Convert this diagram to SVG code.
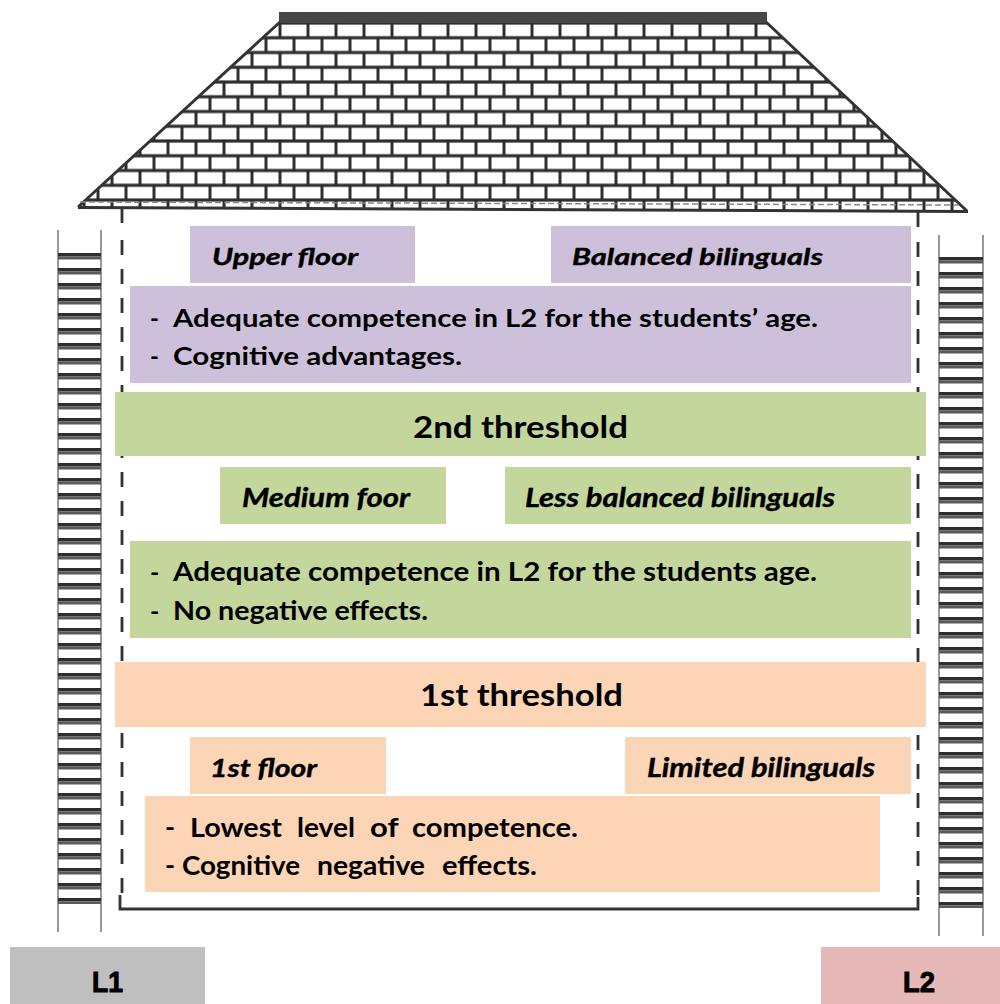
<svg xmlns="http://www.w3.org/2000/svg" width="1000" height="1004" viewBox="0 0 1000 1004">
<style>
text{font-family:Lato,"Open Sans","Liberation Sans",sans-serif;font-weight:bold;fill:#000}
.it{font-style:italic;stroke:#000;stroke-width:0.4}
.wall{stroke:#333;stroke-width:2.8;fill:none}
.rail{stroke:#777;stroke-width:1.5}
.pur{fill:#ccc0da}
.grn{fill:#c3d69b}
.pch{fill:#fbd5b5}
.lab{font-family:"Liberation Sans",Arial,sans-serif;stroke:#000;stroke-width:1}
</style>
<defs>
<pattern id="bricks" patternUnits="userSpaceOnUse" x="0" y="23" width="28" height="29.5">
<rect width="28" height="29.5" fill="#2e2e2e"/>
<rect x="1.5" y="1.6" width="25" height="11.6" fill="#fff"/>
<rect x="-12.5" y="16.35" width="25" height="11.6" fill="#fff"/>
<rect x="15.5" y="16.35" width="25" height="11.6" fill="#fff"/>
</pattern>
<pattern id="rungs" patternUnits="userSpaceOnUse" x="0" y="253" width="50" height="15">
<rect width="50" height="3.5" fill="#2e2e2e"/>
<rect y="3.5" width="50" height="3" fill="#5a5a5a"/>
</pattern>
<pattern id="rungs2" patternUnits="userSpaceOnUse" x="0" y="257" width="50" height="15">
<rect width="50" height="3.5" fill="#2e2e2e"/>
<rect y="3.5" width="50" height="3" fill="#5a5a5a"/>
</pattern>
</defs>
<rect width="1000" height="1004" fill="#fff"/>

<g id="roof">
<polygon points="280,23 766,23 967,211 78,207" fill="url(#bricks)"/>
<rect x="279" y="12" width="488" height="11" fill="#474747"/>
<line x1="280" y1="22" x2="78" y2="207" stroke="#333" stroke-width="3"/>
<line x1="766" y1="22" x2="967" y2="211" stroke="#333" stroke-width="3"/>
<line x1="80" y1="202" x2="962" y2="205" stroke="#888" stroke-width="1.5" stroke-dasharray="6 3"/>
<line x1="78" y1="207.5" x2="968" y2="211.5" stroke="#333" stroke-width="3"/>
</g>

<g id="walls">
<path class="wall" d="M122,208 V227 M122,240 V895" stroke-dasharray="15 14"/>
<path class="wall" d="M918,212 V228 M918,242 V896" stroke-dasharray="15 14"/>
<path class="wall" d="M120,895 V909 H918 V897"/>
</g>

<g id="ladder-left">
<line class="rail" x1="58" y1="230" x2="58" y2="932"/>
<line class="rail" x1="101" y1="230" x2="101" y2="932"/>
<rect x="58" y="253" width="43" height="651" fill="url(#rungs)"/>
</g>
<g id="ladder-right">
<line class="rail" x1="939" y1="235" x2="939" y2="936"/>
<line class="rail" x1="983" y1="235" x2="983" y2="936"/>
<rect x="939" y="257" width="44" height="651" fill="url(#rungs2)"/>
</g>

<g id="connectors"></g>

<g id="upper-floor">
<rect class="pur" x="190" y="226" width="225" height="57"/>
<text class="it" x="212" y="265" font-size="23" textLength="146" lengthAdjust="spacingAndGlyphs">Upper floor</text>
</g>
<g id="balanced-bilinguals">
<rect class="pur" x="551" y="226" width="360" height="57"/>
<text class="it" x="572" y="265" font-size="23" textLength="251" lengthAdjust="spacingAndGlyphs">Balanced bilinguals</text>
</g>
<g id="upper-desc">
<rect class="pur" x="130" y="286" width="781" height="97"/>
<text x="150" y="327" font-size="24">-</text>
<text x="173" y="327" font-size="25" textLength="645" lengthAdjust="spacingAndGlyphs">Adequate competence in L2 for the students’ age.</text>
<text x="150" y="365" font-size="24">-</text>
<text x="173" y="365" font-size="25" textLength="289" lengthAdjust="spacingAndGlyphs">Cognitive advantages.</text>
</g>

<g id="second-threshold">
<rect class="grn" x="115" y="392" width="811" height="64"/>
<text x="413" y="438" font-size="30" textLength="215" lengthAdjust="spacingAndGlyphs">2nd threshold</text>
</g>

<g id="medium-floor">
<rect class="grn" x="220" y="467" width="226" height="57"/>
<text class="it" x="242" y="507" font-size="26" textLength="168" lengthAdjust="spacingAndGlyphs">Medium foor</text>
</g>
<g id="less-balanced-bilinguals">
<rect class="grn" x="505" y="467" width="406" height="57"/>
<text class="it" x="525" y="507" font-size="26" textLength="310" lengthAdjust="spacingAndGlyphs">Less balanced bilinguals</text>
</g>
<g id="medium-desc">
<rect class="grn" x="130" y="541" width="781" height="97"/>
<text x="150" y="581" font-size="25">-</text>
<text x="173" y="581" font-size="26" textLength="644" lengthAdjust="spacingAndGlyphs">Adequate competence in L2 for the students age.</text>
<text x="150" y="620" font-size="25">-</text>
<text x="173" y="620" font-size="26" textLength="255" lengthAdjust="spacingAndGlyphs">No negative effects.</text>
</g>

<g id="first-threshold">
<rect class="pch" x="115" y="662" width="811" height="65"/>
<text x="420" y="706" font-size="30" textLength="203" lengthAdjust="spacingAndGlyphs">1st threshold</text>
</g>

<g id="first-floor">
<rect class="pch" x="190" y="737" width="196" height="57"/>
<text class="it" x="210" y="777" font-size="25" textLength="107" lengthAdjust="spacingAndGlyphs">1st floor</text>
</g>
<g id="limited-bilinguals">
<rect class="pch" x="625" y="737" width="286" height="57"/>
<text class="it" x="647" y="777" font-size="26" textLength="228" lengthAdjust="spacingAndGlyphs">Limited bilinguals</text>
</g>
<g id="first-desc">
<rect class="pch" x="145" y="796" width="735" height="96"/>
<text y="837" font-size="27"><tspan x="165">- </tspan><tspan x="190" textLength="92" lengthAdjust="spacingAndGlyphs">Lowest</tspan><tspan> </tspan><tspan x="297" textLength="58" lengthAdjust="spacingAndGlyphs">level</tspan><tspan> </tspan><tspan x="370" textLength="28" lengthAdjust="spacingAndGlyphs">of</tspan><tspan> </tspan><tspan x="412" textLength="166" lengthAdjust="spacingAndGlyphs">competence.</tspan></text>
<text y="875" font-size="27"><tspan x="165">-</tspan><tspan x="182" textLength="118" lengthAdjust="spacingAndGlyphs">Cognitive</tspan><tspan> </tspan><tspan x="317" textLength="108" lengthAdjust="spacingAndGlyphs">negative</tspan><tspan> </tspan><tspan x="442" textLength="95" lengthAdjust="spacingAndGlyphs">effects.</tspan></text>
</g>

<g id="L1">
<rect x="10" y="947" width="195" height="57" fill="#bfbfbf"/>
<text class="lab" x="92" y="992" font-size="30" textLength="31" lengthAdjust="spacingAndGlyphs">L1</text>
</g>
<g id="L2">
<rect x="821" y="947" width="179" height="57" fill="#e6b9b8"/>
<text class="lab" x="903" y="992" font-size="30" textLength="32" lengthAdjust="spacingAndGlyphs">L2</text>
</g>
</svg>
